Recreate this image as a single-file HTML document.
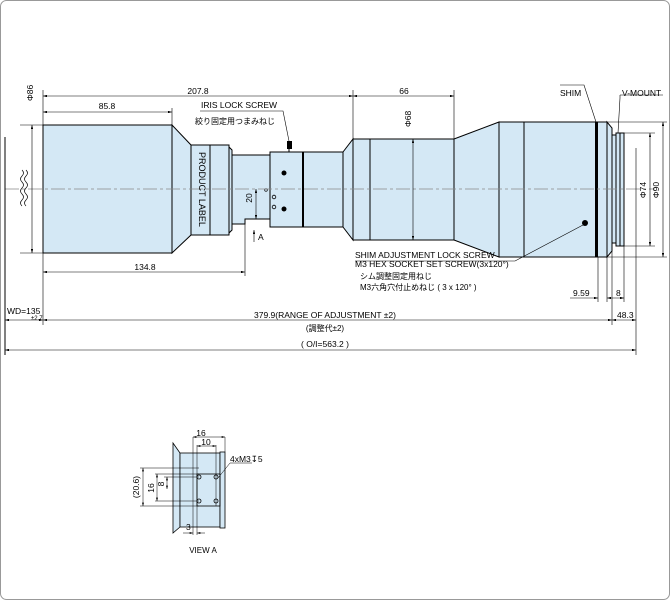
<!DOCTYPE html>
<html><head><style>
html,body{margin:0;padding:0;background:#fff;}
svg{display:block;font-family:"Liberation Sans","Noto Sans CJK JP",sans-serif;}
text{font-size:8.5px;fill:#000;}
</style></head><body>
<svg width="670" height="600" viewBox="0 0 670 600" xmlns="http://www.w3.org/2000/svg">
<defs>
<marker id="a" viewBox="0 0 10 6" refX="10" refY="3" markerWidth="7" markerHeight="4" orient="auto-start-reverse"><path d="M0,0L10,3L0,6z" fill="#000"/></marker>
</defs>
<rect x="0.5" y="0.5" width="669" height="599" rx="6" fill="#fff" stroke="#999"/>
<g stroke="#000" stroke-width="1" fill="#d4e8f5">
<rect x="43" y="125" width="129" height="128"/>
<path d="M172,125L191,145L191,235L172,253z"/>
<rect x="191" y="145" width="38" height="90"/>
<line x1="210" y1="145" x2="210" y2="235"/>
<path d="M229,147L232,150L232,230L229,233z"/>
<path d="M232,155L270,155L270,219L245,219L245,224L232,224z"/>
<rect x="270" y="152" width="33" height="75"/>
<rect x="303" y="152" width="40" height="75"/>
<path d="M343,152L353,139L353,240L343,227z"/>
<rect x="353" y="139" width="101" height="101"/>
<line x1="370" y1="139" x2="370" y2="240"/>
<path d="M454,139L499,122L499,257L454,240z"/>
<rect x="499" y="122" width="108" height="135"/>
<line x1="524" y1="122" x2="524" y2="257"/>
<path d="M607,122L612,128L612,251L607,257z"/>
<rect x="612" y="135" width="4" height="108"/>
<rect x="616" y="133" width="8" height="113"/>
<line x1="620" y1="133" x2="620" y2="246"/>
</g>
<line x1="303" y1="152" x2="303" y2="227" stroke="#000" stroke-width="2"/>
<rect x="595" y="122" width="3" height="135" fill="#000"/>
<rect x="287" y="141" width="5" height="8" fill="#000"/>
<line x1="289" y1="149" x2="289" y2="152" stroke="#000"/>
<circle cx="284" cy="173" r="2.5" fill="#000"/><circle cx="284" cy="209" r="2.5" fill="#000"/>
<circle cx="266" cy="190" r="1.3" fill="none" stroke="#000" stroke-width="0.7"/>
<circle cx="274" cy="197" r="1.8" fill="none" stroke="#000" stroke-width="0.8"/>
<circle cx="274" cy="207" r="1.8" fill="none" stroke="#000" stroke-width="0.8"/>
<circle cx="585" cy="223" r="3" fill="#000"/>
<line x1="5" y1="189" x2="655" y2="189" stroke="#888" stroke-width="0.8" stroke-dasharray="14,3,3,3"/>
<line x1="5" y1="137" x2="5" y2="355" stroke="#000"/>
<path d="M22,170q3,3 0,6q-3,3 0,6q3,3 0,6q-3,3 0,6q3,3 0,6q-3,3 0,6M26,170q3,3 0,6q-3,3 0,6q3,3 0,6q-3,3 0,6q3,3 0,6q-3,3 0,6" fill="none" stroke="#000" stroke-width="0.7"/>
<g stroke="#000" stroke-width="0.6" fill="none">
<line x1="43" y1="90" x2="43" y2="325"/><line x1="172" y1="108" x2="172" y2="125"/>
<line x1="353" y1="90" x2="353" y2="139"/><line x1="454" y1="90" x2="454" y2="139"/>
<line x1="245" y1="224" x2="245" y2="276"/>
<line x1="20" y1="125" x2="43" y2="125"/><line x1="20" y1="253" x2="43" y2="253"/>
<line x1="607" y1="257" x2="607" y2="302"/><line x1="612" y1="251" x2="612" y2="325"/>
<line x1="598" y1="257" x2="598" y2="302"/><line x1="624" y1="246" x2="624" y2="302"/>
<line x1="636" y1="148" x2="636" y2="355"/>
<line x1="624" y1="133" x2="655" y2="133"/><line x1="624" y1="246" x2="655" y2="246"/>
<line x1="607" y1="122" x2="667" y2="122"/><line x1="607" y1="257" x2="667" y2="257"/>
<line x1="43" y1="96" x2="353" y2="96" marker-start="url(#a)" marker-end="url(#a)"/>
<line x1="43" y1="112" x2="172" y2="112" marker-start="url(#a)" marker-end="url(#a)"/>
<line x1="353" y1="96" x2="454" y2="96" marker-start="url(#a)" marker-end="url(#a)"/>
<line x1="32" y1="125" x2="32" y2="253" marker-start="url(#a)" marker-end="url(#a)"/>
<line x1="413" y1="139" x2="413" y2="240" marker-start="url(#a)" marker-end="url(#a)"/>
<line x1="650" y1="133" x2="650" y2="246" marker-start="url(#a)" marker-end="url(#a)"/>
<line x1="663" y1="122" x2="663" y2="257" marker-start="url(#a)" marker-end="url(#a)"/>
<line x1="43" y1="272" x2="245" y2="272" marker-start="url(#a)" marker-end="url(#a)"/>
<line x1="256" y1="189" x2="256" y2="219" marker-start="url(#a)" marker-end="url(#a)"/>
<line x1="245" y1="219" x2="260" y2="219"/>
<line x1="5" y1="320" x2="43" y2="320" marker-start="url(#a)" marker-end="url(#a)"/>
<line x1="43" y1="320" x2="612" y2="320" marker-start="url(#a)" marker-end="url(#a)"/>
<line x1="612" y1="320" x2="636" y2="320" marker-start="url(#a)" marker-end="url(#a)"/>
<line x1="5" y1="350" x2="636" y2="350" marker-start="url(#a)" marker-end="url(#a)"/>
<line x1="570" y1="298" x2="598" y2="298" marker-end="url(#a)"/>
<line x1="607" y1="298" x2="624" y2="298" marker-start="url(#a)" marker-end="url(#a)"/>
<line x1="254" y1="242" x2="254" y2="230" marker-end="url(#a)"/>
<polyline points="200,111 283,111 289,141"/>
<polyline points="560,85 584,85 596,122"/>
<polyline points="620,95 620,98 618,133"/>
<polyline points="620,95 663,95"/>
<polyline points="355,261 515,261 583,225"/>
</g>
<g>
<text x="198" y="94" text-anchor="middle">207.8</text>
<text x="107" y="109" text-anchor="middle">85.8</text>
<text x="404" y="94" text-anchor="middle">66</text>
<text x="145" y="270" text-anchor="middle">134.8</text>
<text x="201" y="108">IRIS  LOCK SCREW</text>
<text x="195" y="124" style="font-size:8px">絞り固定用つまみねじ</text>
<text x="560" y="96">SHIM</text>
<text x="622" y="96">V-MOUNT</text>
<text x="355" y="258">SHIM ADJUSTMENT LOCK SCREW</text>
<text x="355" y="267">M3 HEX SOCKET SET SCREW(3x120°)</text>
<text x="360" y="279" style="font-size:8px">シム調整固定用ねじ</text>
<text x="360" y="290" style="font-size:8px">M3六角穴付止めねじ ( 3 x 120° )</text>
<text x="573" y="296">9.59</text>
<text x="616" y="296">8</text>
<text x="617" y="318">48.3</text>
<text x="7" y="314">WD=135</text>
<text x="31" y="320" style="font-size:6px">±2.7</text>
<text x="325" y="318" text-anchor="middle">379.9(RANGE OF ADJUSTMENT ±2)</text>
<text x="325" y="331" text-anchor="middle" style="font-size:8px">(調整代±2)</text>
<text x="325" y="347" text-anchor="middle">( O/I=563.2 )</text>
<text x="258" y="240">A</text>
<text transform="translate(33,101) rotate(-90)">Φ86</text>
<text transform="translate(199,152) rotate(90)" style="font-size:9px">PRODUCT LABEL</text>
<text transform="translate(411,127) rotate(-90)">Φ68</text>
<text transform="translate(252,198) rotate(-90)" text-anchor="middle">20</text>
<text transform="translate(646,190) rotate(-90)" text-anchor="middle">Φ74</text>
<text transform="translate(659,190) rotate(-90)" text-anchor="middle">Φ90</text>
</g>
<g stroke="#000" stroke-width="0.8">
<path d="M173,443L180,453L180,527L173,533z" fill="#d4e8f5"/>
<rect x="180" y="453" width="40" height="74" fill="#d4e8f5"/>
<rect x="220" y="452" width="5" height="76" fill="#d4e8f5"/>
<rect x="197" y="474" width="23" height="32" fill="none"/>
</g>
<g fill="none" stroke="#000" stroke-width="0.8">
<circle cx="199" cy="477" r="2"/><circle cx="216" cy="477" r="2"/><circle cx="199" cy="501" r="2"/><circle cx="216" cy="501" r="2"/>
</g>
<g stroke="#000" stroke-width="0.5" fill="none">
<line x1="193" y1="437" x2="193" y2="535"/><line x1="197" y1="445" x2="197" y2="535"/><line x1="216" y1="445" x2="216" y2="506"/><line x1="225" y1="437" x2="225" y2="452"/>
<line x1="193" y1="437" x2="225" y2="437" marker-start="url(#a)" marker-end="url(#a)"/>
<line x1="197" y1="446" x2="216" y2="446" marker-start="url(#a)" marker-end="url(#a)"/>
<line x1="140" y1="468" x2="199" y2="468"/><line x1="140" y1="506" x2="199" y2="506"/>
<line x1="155" y1="474" x2="199" y2="474"/><line x1="155" y1="501" x2="199" y2="501"/>
<line x1="164" y1="477" x2="199" y2="477"/>
<line x1="143" y1="468" x2="143" y2="506" marker-start="url(#a)" marker-end="url(#a)"/>
<line x1="157" y1="474" x2="157" y2="501" marker-start="url(#a)" marker-end="url(#a)"/>
<line x1="167" y1="477" x2="167" y2="489" marker-start="url(#a)" marker-end="url(#a)"/>
<line x1="183" y1="533" x2="193" y2="533" marker-end="url(#a)"/><line x1="197" y1="533" x2="205" y2="533" marker-start="url(#a)"/>
<polyline points="218,478 230,463 252,463"/>
</g>
<text x="201" y="436" text-anchor="middle">16</text>
<text x="206" y="445" text-anchor="middle">10</text>
<text x="230" y="462">4xM3↧5</text>
<text transform="translate(139,487) rotate(-90)" text-anchor="middle">(20.6)</text>
<text transform="translate(154,488) rotate(-90)" text-anchor="middle">16</text>
<text transform="translate(164,484) rotate(-90)" text-anchor="middle">8</text>
<text x="186" y="530">3</text>
<text x="203" y="553" text-anchor="middle" style="font-size:8px">VIEW A</text>
</svg>
</body></html>
